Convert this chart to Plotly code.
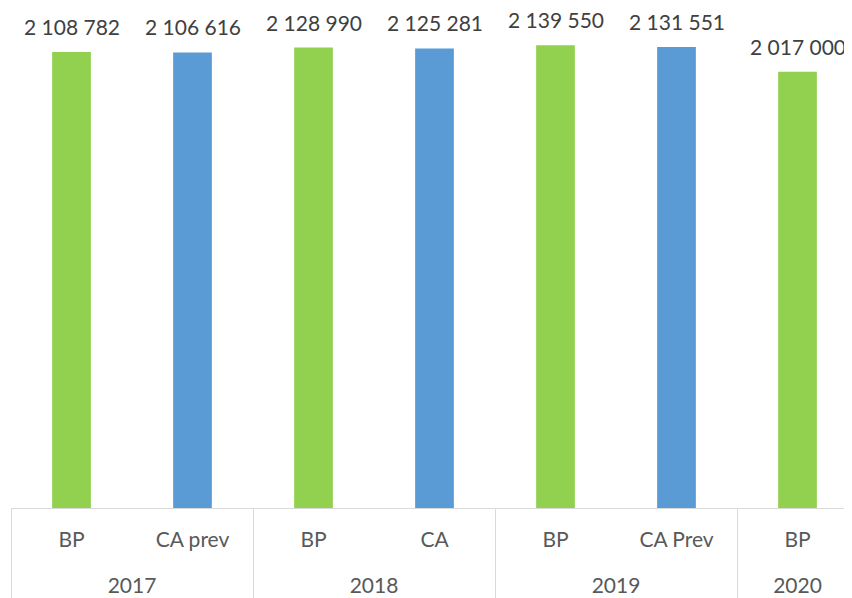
import plotly.graph_objects as go

years = ["2017", "2017", "2018", "2018", "2019", "2019", "2020"]
kinds = ["BP", "CA prev", "BP", "CA", "BP", "CA Prev", "BP"]
values = [2108782, 2106616, 2128990, 2125281, 2139550, 2131551, 2017000]

GREEN = "#92D050"
BLUE = "#5B9BD5"
colors = [GREEN if k == "BP" else BLUE for k in kinds]
kind_labels = [k + "<br><span style='font-size:44px'> </span>" for k in kinds]

def fmt(v):
    return f"{v:,}".replace(",", " ")

fig = go.Figure()
fig.add_trace(go.Bar(
    x=[years, kind_labels], y=values,
    marker=dict(color=colors, line=dict(width=0)),
    hoverinfo="skip",
))

for i, v in enumerate(values):
    fig.add_annotation(x=i, y=v, xref="x", yref="y", text=fmt(v),
                       showarrow=False, yanchor="bottom", yshift=11,
                       font=dict(family="Lato", size=21, color="#404040"))

fig.update_layout(
    width=852, height=598,
    margin=dict(l=3, r=2, t=0, b=98),
    paper_bgcolor="white", plot_bgcolor="white",
    showlegend=False, bargap=0.68,
    font=dict(family="Lato", size=21, color="#595959"),
)
fig.update_xaxes(
    type="multicategory", range=[-0.5, 6.5],
    showline=True, linecolor="#D9D9D9", linewidth=1,
    showdividers=True, dividercolor="#D9D9D9", dividerwidth=1,
    ticks="", ticklabelstandoff=13,
    tickfont=dict(family="Lato", size=21, color="#595959"),
    showgrid=False,
)
fig.update_yaxes(range=[0, 2312000], visible=False, showgrid=False, zeroline=False)

fig.write_html("out.html")
